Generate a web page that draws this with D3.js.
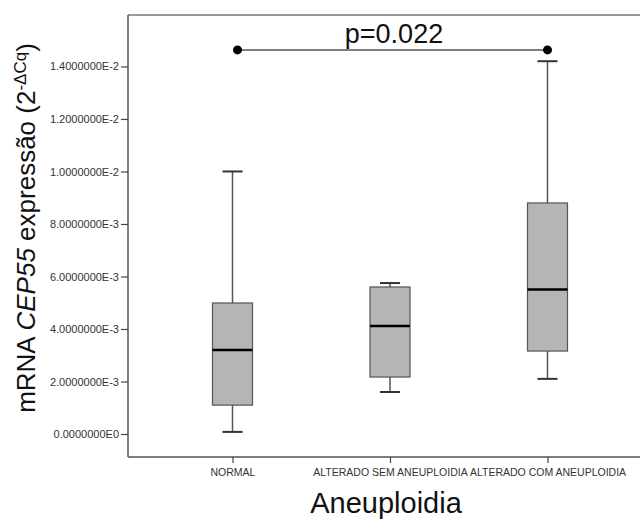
<!DOCTYPE html>
<html>
<head>
	<title>CEP55 boxplot</title>
	<script src="https://d3js.org/d3.v7.min.js"></script>
	<style>
		body { margin: 0; background: #fff; }
		text { font-family: Arial, "Liberation Sans", sans-serif; }
	</style>
</head>
<body>
<svg width="640" height="519"></svg>

<script type="text/javascript">
var categories = ['NORMAL', 'ALTERADO SEM ANEUPLOIDIA', 'ALTERADO COM ANEUPLOIDIA'];
var whiskerLow  = [0.00008, 0.0016,  0.0021];
var q1          = [0.0011,  0.00217, 0.00316];
var median      = [0.0032,  0.00411, 0.0055];
var q3          = [0.00499, 0.0056,  0.0088];
var whiskerHigh = [0.0100,  0.00575, 0.0142];
var yTicks = [0, 0.002, 0.004, 0.006, 0.008, 0.010, 0.012, 0.014];
var yDomain = [-0.000876, 0.01596];
var pLabel = 'p=0.022';
var pLevel = 0.01463;
var pPair = [0, 2];

var plotLeft = 128, plotRight = 640, plotTop = 15, plotBottom = 457;
var boxW = 40, capW = 20;

var svg = d3.select('svg');

var y = d3.scaleLinear().domain(yDomain).range([plotBottom, plotTop]);
var x = d3.scalePoint().domain(categories).range([232.5, 547.5]);

var data = categories.map(function(c, i) {
	return {cat: c, lo: whiskerLow[i], q1: q1[i], med: median[i], q3: q3[i], hi: whiskerHigh[i]};
});

// frame
svg.append('line')
	.attr('x1', plotLeft).attr('x2', plotRight).attr('y1', plotTop).attr('y2', plotTop)
	.attr('stroke', '#777').attr('stroke-width', 1.5);
svg.append('line')
	.attr('x1', plotLeft).attr('x2', plotRight).attr('y1', plotBottom).attr('y2', plotBottom)
	.attr('stroke', '#555').attr('stroke-width', 1.5);
svg.append('line')
	.attr('x1', plotLeft).attr('x2', plotLeft).attr('y1', plotTop).attr('y2', plotBottom)
	.attr('stroke', '#555').attr('stroke-width', 1.5);

// y axis
var yAxis = svg.append('g')
	.attr('transform', 'translate(' + plotLeft + ',0)')
	.call(d3.axisLeft(y)
		.tickValues(yTicks)
		.tickSize(7)
		.tickSizeOuter(0)
		.tickPadding(2)
		.tickFormat(function(d) {
			if (d === 0) return '0.0000000E0';
			return d.toExponential(7).replace('e', 'E');
		}));
yAxis.select('.domain').remove();
yAxis.selectAll('line').attr('stroke', '#444').attr('stroke-width', 1.2);
yAxis.selectAll('text').attr('fill', '#333').style('font-size', '11px');

// x axis
var xAxis = svg.append('g')
	.attr('transform', 'translate(0,' + plotBottom + ')')
	.call(d3.axisBottom(x).tickSize(6).tickPadding(6));
xAxis.select('.domain').remove();
xAxis.selectAll('line').attr('stroke', '#444').attr('stroke-width', 1.2);
xAxis.selectAll('text').attr('fill', '#333').style('font-size', '10.5px');

// boxes
var g = svg.selectAll('.box')
	.data(data)
	.enter()
	.append('g')
	.attr('class', 'box');

g.append('line')
	.attr('x1', function(d) { return x(d.cat); })
	.attr('x2', function(d) { return x(d.cat); })
	.attr('y1', function(d) { return y(d.hi); })
	.attr('y2', function(d) { return y(d.lo); })
	.attr('stroke', '#555').attr('stroke-width', 1.5);

g.selectAll('.cap')
	.data(function(d) { return [{c: d.cat, v: d.hi}, {c: d.cat, v: d.lo}]; })
	.enter()
	.append('line')
	.attr('x1', function(d) { return x(d.c) - capW / 2; })
	.attr('x2', function(d) { return x(d.c) + capW / 2; })
	.attr('y1', function(d) { return y(d.v); })
	.attr('y2', function(d) { return y(d.v); })
	.attr('stroke', '#333').attr('stroke-width', 2);

g.append('rect')
	.attr('x', function(d) { return x(d.cat) - boxW / 2; })
	.attr('width', boxW)
	.attr('y', function(d) { return y(d.q3); })
	.attr('height', function(d) { return y(d.q1) - y(d.q3); })
	.attr('fill', '#b5b5b5')
	.attr('stroke', '#555').attr('stroke-width', 1.2);

g.append('line')
	.attr('x1', function(d) { return x(d.cat) - boxW / 2; })
	.attr('x2', function(d) { return x(d.cat) + boxW / 2; })
	.attr('y1', function(d) { return y(d.med); })
	.attr('y2', function(d) { return y(d.med); })
	.attr('stroke', '#000').attr('stroke-width', 2.5);

// significance bracket
var px1 = x(categories[pPair[0]]) + 5, px2 = x(categories[pPair[1]]);
svg.append('line')
	.attr('x1', px1).attr('x2', px2)
	.attr('y1', y(pLevel)).attr('y2', y(pLevel))
	.attr('stroke', '#555').attr('stroke-width', 1.5);
svg.selectAll('.pdot')
	.data([px1, px2])
	.enter()
	.append('circle')
	.attr('cx', function(d) { return d; })
	.attr('cy', y(pLevel))
	.attr('r', 4.5)
	.attr('fill', '#000');
svg.append('text')
	.attr('x', 394)
	.attr('y', y(pLevel) - 7)
	.attr('text-anchor', 'middle')
	.style('font-size', '27px')
	.attr('fill', '#111')
	.text(pLabel);

// axis titles
svg.append('text')
	.attr('x', 386)
	.attr('y', 513)
	.attr('text-anchor', 'middle')
	.style('font-size', '29px')
	.attr('fill', '#111')
	.text('Aneuploidia');

var yt = svg.append('text')
	.attr('transform', 'translate(35,228) rotate(-90)')
	.attr('text-anchor', 'middle')
	.style('font-size', '26px')
	.attr('fill', '#111');
yt.append('tspan').text('mRNA ');
yt.append('tspan').style('font-style', 'italic').text('CEP55');
yt.append('tspan').text(' expressão (2');
yt.append('tspan').attr('dy', -9).style('font-size', '17px').text('-ΔCq');
yt.append('tspan').attr('dy', 9).text(')');
</script>
</body>
</html>
